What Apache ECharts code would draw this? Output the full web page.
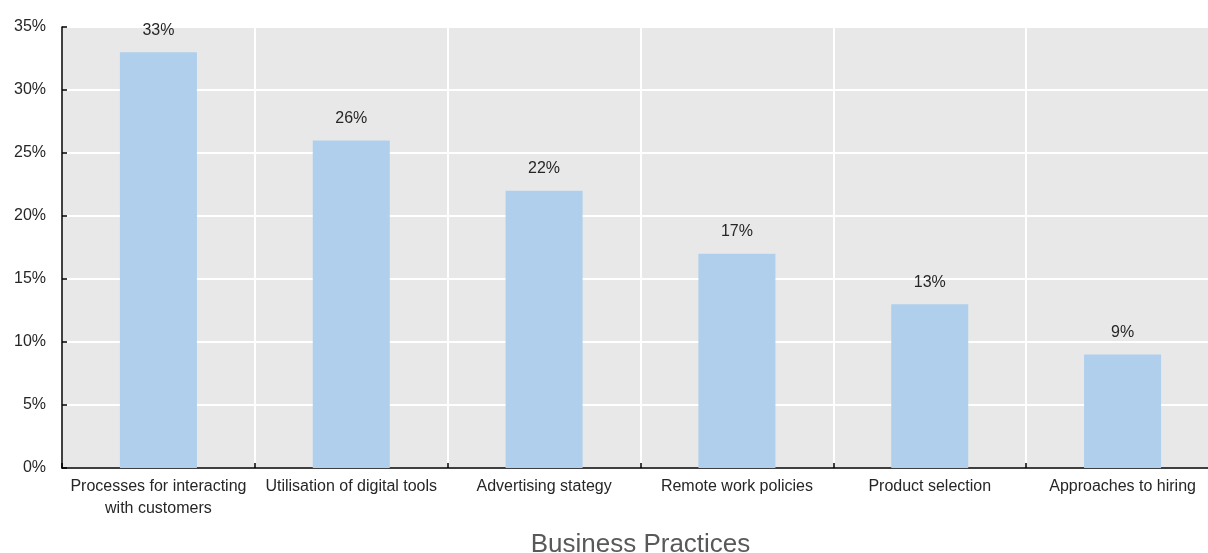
<!DOCTYPE html>
<html>
<head>
<meta charset="utf-8">
<script src="https://cdn.jsdelivr.net/npm/echarts@6/dist/echarts.min.js"></script>
<style>
  html, body { margin: 0; padding: 0; background: #ffffff; }
  #chart { width: 1208px; height: 553px; }
</style>
</head>
<body>
<div id="chart"></div>
<script>
// Share of firms changing each business practice (%)
const categories = [
  'Processes for interacting\nwith customers',
  'Utilisation of digital tools',
  'Advertising stategy',
  'Remote work policies',
  'Product selection',
  'Approaches to hiring'
];
const shares = [33, 26, 22, 17, 13, 9];
const axisTitle = 'Business Practices';

const chart = echarts.init(document.getElementById('chart'), null, { renderer: 'canvas' });

chart.setOption({
  animation: false,
  grid: {
    left: 62,
    top: 27,
    width: 1157,
    height: 441,
    containLabel: false,
    outerBoundsMode: 'none',
    show: true,
    backgroundColor: '#e8e8e8',
    borderWidth: 0
  },
  xAxis: {
    type: 'category',
    data: categories,
    name: axisTitle,
    nameLocation: 'middle',
    nameGap: 64,
    nameTextStyle: { fontFamily: 'Liberation Sans, Arial', fontSize: 26, color: '#595959' },
    axisLine: { show: true, lineStyle: { color: '#000000', width: 1.5 } },
    axisTick: { show: true, inside: true, length: 5, lineStyle: { color: '#000000', width: 1.5 } },
    axisLabel: {
      interval: 0,
      margin: 8,
      fontFamily: 'Liberation Sans, Arial',
      fontSize: 16,
      lineHeight: 22,
      color: '#262626'
    },
    splitLine: { show: true, lineStyle: { color: '#ffffff', width: 2 } }
  },
  yAxis: {
    type: 'value',
    min: 0,
    max: 35,
    interval: 5,
    axisLine: { show: true, lineStyle: { color: '#000000', width: 1.5 } },
    axisTick: { show: true, inside: true, length: 5, lineStyle: { color: '#000000', width: 1.5 } },
    axisLabel: {
      margin: 16,
      fontFamily: 'Liberation Sans, Arial',
      fontSize: 16,
      color: '#262626',
      formatter: '{value}%'
    },
    splitLine: { show: true, lineStyle: { color: '#ffffff', width: 2 } }
  },
  series: [{
    type: 'bar',
    data: shares,
    barWidth: 77,
    itemStyle: { color: '#afcfed' },
    label: {
      show: true,
      position: 'top',
      distance: 14,
      fontFamily: 'Liberation Sans, Arial',
      fontSize: 16,
      color: '#262626',
      formatter: '{c}%'
    }
  }]
});
</script>
</body>
</html>
